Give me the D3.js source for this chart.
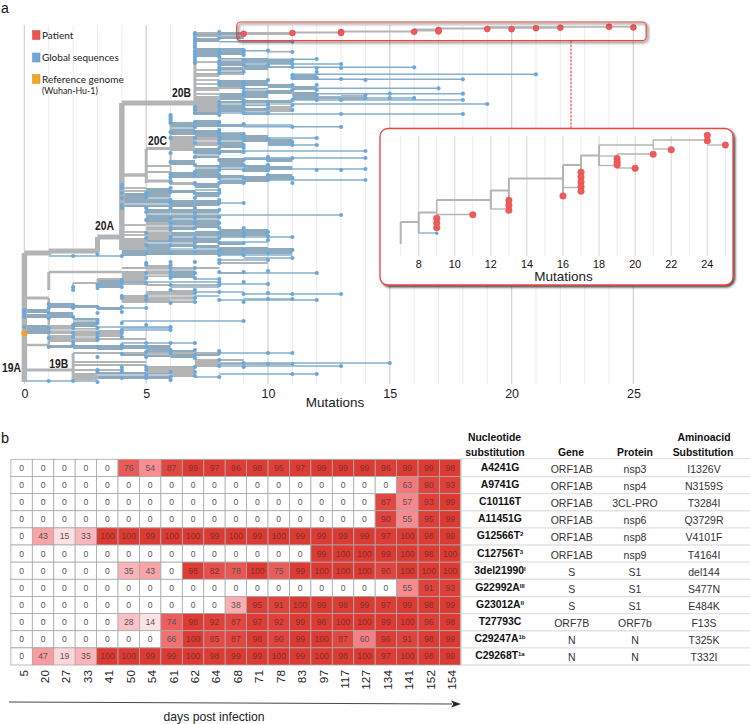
<!DOCTYPE html>
<html><head><meta charset="utf-8">
<script src="https://cdn.jsdelivr.net/npm/d3@7"></script>
<style>html,body{margin:0;padding:0;background:#fff}svg{display:block}text{font-family:"Liberation Sans",Arial,sans-serif}</style>
</head><body><svg id="c" width="750" height="724"></svg>
<script>
// ---------- panel a: phylogeny (x = mutations, y = tree order) ----------
const mutationTicks=[0,5,10,15,20,25];
const clades=[["20B",6.84,92],["20C",5.85,140],["20A",3.68,225],["19A",-0.14,367],["19B",1.8,363]];
const legendItems=["Patient","Global sequences","Reference genome"];
const legendColors=["#ef5350","#6fa8d8","#f5a623"];
// backbone: x0,x1,y,width
const backboneH=[[0,1,253,5],[1,3,251,5],[3,4,237,5],[4,7,103,5],[4,5,175,3.5],[5,6,148.5,3],[5,6,166,2],[5,6,172,2],[5,6,181,3],[0,1,298,3],[0,1,345,2.5],[0,2,370,3],[1,4,272,2.5],[2,3,283,2],[3,4,279,2]];
const backboneV=[[0,253,382,5.5],[1,251,255,5],[3,237,252,5],[4,103,250,5.5],[5,149,183,3],[7,32,115,3],[6,115,185,2],[1,272,290,3],[1,298,347,2.5],[2,353,381,3],[2,283,290,2],[3,279,290,2]];
// collapsed clades: x0,x1,y0,y1,tone (0 grey, 1 slate)
const bands=[
[7,8,32,37,1],[7,8,38,42,1],[7,8,48,57,1],[7,8,96,112,0],[7,8,112,115,1],
[8,9,32,35,1],[8,9,36,39,1],[8,9,48,55,1],[8,9,58,66,1],[8,9,67,75,1],[8,9,80,87,1],[8,9,93,100,1],[8,9,101,112,1],
[9,10,58,63,1],[9,10,65,70,1],[9,10,80,86,1],[9,10,88,98,1],[9,10,100,106,1],[9,10,108,115,1],
[10,11,60,64,1],[10,11,66,68,0],[10,11,84,88,1],[10,11,90,94,1],[10,11,100,105,1],[10,11,106,112,0],
[11,12,75,80,1],[11,12,86,90,1],[11,12,92,100,1],[12,13,96,99,0],[13,14,95,100,0],
[6,7,122,135,1],[6,7,136,151,0],[6,7,160,165,1],[6,7,172,178,1],[6,7,182,185,0],
[7,8,120,127,1],[7,8,130,137,1],[7,8,137,146,0],[7,8,148,158,1],[7,8,165,178,1],[7,8,183,188,1],
[8,9,124,127,1],[8,9,133,148,1],[8,9,150,153,1],[8,9,158,170,1],[8,9,175,184,1],
[9,10,135,142,1],[9,10,158,160,1],[9,10,165,172,1],[9,10,176,182,1],
[10,11,139,146,1],[10,11,158,162,1],[10,11,166,170,1],[10,11,174,180,1],
[4,5,193,207,1],[4,5,238,250,0],[4,5,250,256,1],
[5,6,188,207,1],[5,6,209,222,1],[5,6,222,240,0],[5,6,240,255,1],
[6,7,190,193,1],[6,7,200,207,1],[6,7,209,230,1],[6,7,232,247,1],[6,7,248,255,1],
[7,8,192,197,1],[7,8,200,206,1],[7,8,209,228,1],[7,8,231,243,1],[7,8,245,255,1],
[8,9,229,237,1],[8,9,242,245,1],[8,9,247,255,1],[9,10,229,236,1],[9,10,247,254,1],[10,11,248,254,1],
[0,1,309,313,1],[0,1,314,318,1],[0,1,325,334,1],
[1,2,303,308,1],[1,2,312,318,1],[1,2,325,334,0],[1,2,335,342,0],[1,2,345,348,1],
[2,3,305,308,1],[2,3,318,327,1],[2,3,328,342,0],[2,3,345,349,1],
[3,4,307,310,1],[3,4,330,337,0],[3,4,279,288,1],[3,4,345,350,1],
[4,5,273,285,0],[4,5,295,303,0],[4,5,345,349,1],[4,5,352,356,1],
[5,6,265,277,0],[5,6,291,302,0],[5,6,345,357,1],
[6,7,268,278,1],[6,7,290,302,0],[6,7,350,358,1],[7,8,360,367,0],[7,8,352,356,1],
[3,5,372,379,1],[5,7,366,371,0],[5,6,372,379,1],[6,7,372,377,0],[2,3,373,380,0],[8,9,272,274,0]];
// pale gaps between neighbouring lineages: y,x0,x1
const gaps=[[214,5,8],[219,6,8],[226,5,7],[231,5,6],[237,6,8],[243,5,7],[249,6,8],[198,5,8],[204,4,6],[128,6,8],[141,7,9],[155,7,9],[168,7,9],[179,8,9],[90,8,10],[104,8,11],[112,9,10],[60,8,9],[71,8,9],[330,1,3],[337,2,3],[270,5,7],[275,5,6],[296,5,7],[300,6,7],[321,2,3],[354,5,6],[375,3,6]];
// single lineages: y,x0,x1
const tips=[[41.7,8,11],[50.7,8,10],[59.3,9,12],[64,9,13],[67.3,10,16],[74.3,11,21],[79.3,11,18],[88.3,11,17],[93.7,12,18],[98,12,16],[100,11,18],[104,11,19],[114,9,18],
[126.7,9,13],[138,10,12],[145,10,12],[151,9,14],[158,9,14],[169,10,14],[180,10,14],[113,8,10],[125,8,11],[133,8,9],
[203,8,9],[215,8,13],[237,8,11],[190,7,8],[196,7,8],[242,8,10],[255,8,11],[258,9,11],[260,8,10],
[256,1,4],[273,8,12],[284,8,10],[294,9,13],[300,8,12],[299,9,11],[308,4,5],[321,4,9],[328,4,6],[330,4,6],[343,4,7],[353,8,11],[363,8,15],[366,8,13],[374,8,12],[377,7,8],[381,0,3],[327,3,6],[296,7,8],[287,6,8],[282,4,8],[279,7,8],[292,7,9]];
const greyTips=[[51.7,10,11],[33,7,8],[88,7,9],[74,7,9],[62,7,8],[70,7,8],[76,7,8],[80,7,8],[84,7,8],[90,7,8],[94,7,8],[107,7,8],[268,4,8],[272,4,6],[353,2,8],[362,2,5],[365,2,5],[370,2,4],[372,5,7],[376,6,7],[188,4,5],[191,4,5],[232,4,5],[235,4,5],[225,4,5],[360,7,9],[364,8,11],[353,5,7],[263,8,10],[285,5,8],[302,4,7],[339,3,5]];
// observed nodes per mutation count: index = mutations
const dotY=[
[310,312,314,317,327],
[304,308,313,318,328,332,338,347,381],
[256,287,290,305,308,317,325,328,333,337,342,345,381],
[254,285,288,307,313,320,323,328,333,337,340,347,357,370,372,382],
[185,188,193,198,205,208,256,280,283,287,296,298,307,312,323,330,333,337,345,348,354,367,370,372,378],
[193,197,208,212,220,233,238,245,253,263,265,273,278,283,296,300,308,325,343,347,352,357,367,370,375,378],
[115,117,119,121,123,132,138,153,162,174,182,177,181,188,192,200,203,208,218,223,227,230,237,240,245,253,262,265,268,272,275,278,285,290,303,327,330,343,350,353,372,377,380],
[33,35,38,41,44,47,51,54,57,60,63,107,110,113,122,127,132,138,143,152,157,165,172,175,184,183,193,198,208,213,218,223,228,238,243,247,252,262,268,273,278,290,293,298,302,343,350,355,358,367,372,376],
[32,35,38,50,52,54,57,61,64,67,70,73,82,85,102,105,108,112,115,122,125,130,133,137,140,143,148,153,160,167,170,175,178,183,190,193,200,203,210,217,223,228,233,238,243,250,255,260,263,272,279,282,285,292,300,351,353,360,366,377],
[50,52,55,60,65,72,82,85,88,92,95,100,104,108,113,124,134,137,140,145,148,152,160,165,170,178,183,203,228,232,236,243,250,255,272,282,294,302,321,363,367],
[50.7,65,80,92,102,105,108,113,139,157,160,165,170,175,180,232,236,240,253,260,271,284,293,299,353,364],
[41.7,52,60,64,67,75,78,85,90,100,105,110,127,142,145,158,178,183,237,250,258,294,299,353,364,374],
[59,68,72,78,85,90,95,100,138,145,170,273,300,374],
[64,68,79,100,114,127,170,215,294,366],
[80,95,98,151,158,169,180],
[93.7,98,363],
[67.3,98],[88.3],[79.3,93.7,100,114],[104],[],[74.3]];
const refNode=[0,333.3];
// patient lineage in main tree
const patientLines=[[9,11,33.5,3],[11,13,32.5,2],[13,16,31.5,2],[16,17,30,3],[17,19,28.5,1.8],[19,22,27.5,2.5],[22,24,27,1.5],[24,25,26.8,1.5],[7,9,36,1.5]];
const patientDots=[[9,33.8],[11,33],[13,32],[13,33],[16,31.7],[17,30],[17,31.5],[19,29],[20,29.2],[21,28.3],[22,27.7],[24,26.8],[25,27.4]];
// ---------- inset ----------
const insetTicks=[8,10,12,14,16,18,20,22,24];
const insetGrid=[7,8,9,10,11,12,13,14,15,16,17,18,19,20,21,22,23,24,25];
const insetH=[[7,8,222,2],[8,9,212.5,2],[9,12,200,2],[9,11,214.5,1.3],[12,13,190.5,2],[12,13,209,1.3],[13,16,178.5,2],[16,17,165,2],[16,17,187.5,1.3],[17,18,155.5,2],[18,21,145,1.5],[18,19,156,1.3],[18,19,165.5,1.3],[19,21,154,1.3],[19,20,168,1.3],[21,24,140,1.5],[21,22,149,1.3],[24,25,145,1.3]];
const insetV=[[7,222,244,2],[8,212,233,2],[9,200,228,1.5],[12,190,209,2],[13,178,200,2],[16,165,196,2],[17,155,174,2],[18,145,166,2],[19,154,168,1.3],[21,140,149,1.3]];
const insetDots=[[9,218.3],[9,223],[9,227.7],[11,214.7],[13,200.3],[13,205.3],[13,210.3],[16,196],[17,172.3],[17,177],[17,182],[17,186.7],[17,191.3],[19,158.5],[19,162],[19,165],[20,168.3],[21,154.3],[22,149.7],[24,135.3],[24,140.7],[25,145]];
// ---------- panel b ----------
const days=["5","20","27","33","41","50","54","61","62","64","68","71","78","83","97","117","127","134","141","152","154"];
const nucleotides=["A4241G","A9741G","C10116T","A11451G","G12566T","C12756T","3del21990","G22992A","G23012A","T27793C","C29247A","C29268T"];
const superscripts=["","","","","2","3","I","III","II","","1b","1a"];
const genes=["ORF1AB","ORF1AB","ORF1AB","ORF1AB","ORF1AB","ORF1AB","S","S","S","ORF7B","N","N"];
const proteins=["nsp3","nsp4","3CL-PRO","nsp6","nsp8","nsp9","S1","S1","S1","ORF7b","N","N"];
const aminoacids=["I1326V","N3159S","T3284I","Q3729R","V4101F","T4164I","del144","S477N","E484K","F13S","T325K","T332I"];
const A4241G=[0,0,0,0,0,76,54,87,99,97,96,98,95,97,99,99,99,96,99,99,98];
const A9741G=[0,0,0,0,0,0,0,0,0,0,0,0,0,0,0,0,0,0,63,90,93];
const C10116T=[0,0,0,0,0,0,0,0,0,0,0,0,0,0,0,0,0,87,57,93,99];
const A11451G=[0,0,0,0,0,0,0,0,0,0,0,0,0,0,0,0,0,90,55,95,99];
const G12566T=[0,43,15,33,100,100,99,100,100,99,100,99,100,99,99,99,99,97,100,98,99];
const C12756T=[0,0,0,0,0,0,0,0,0,0,0,0,0,0,99,100,100,99,100,98,100];
const del21990=[0,0,0,0,0,35,43,0,98,82,78,100,75,99,100,100,100,90,100,100,100];
const G22992A=[0,0,0,0,0,0,0,0,0,0,0,0,0,0,0,0,0,0,55,91,93];
const G23012A=[0,0,0,0,0,0,0,0,0,0,38,95,91,100,99,98,99,97,99,98,99];
const T27793C=[0,0,0,0,0,28,14,74,98,92,87,97,92,99,98,100,100,99,100,96,98];
const C29247A=[0,0,0,0,0,0,0,66,100,85,87,98,90,99,100,87,60,96,91,98,99];
const C29268T=[0,47,19,35,100,100,99,99,100,98,99,99,100,99,100,98,100,97,100,98,99];
const freq=[A4241G,A9741G,C10116T,A11451G,G12566T,C12756T,del21990,G22992A,G23012A,T27793C,C29247A,C29268T];

// ---------- drawing ----------
const svg=d3.select("#c");
const defs=svg.append("defs");
const f=defs.append("filter").attr("id","sh").attr("x","-5%").attr("y","-20%").attr("width","112%").attr("height","150%");
f.append("feDropShadow").attr("dx",1.6).attr("dy",1.6).attr("stdDeviation",.9).attr("flood-color","#222").attr("flood-opacity",.85);
const x=d3.scaleLinear([0,25],[24.4,633.4]);
const y=d3.scaleLinear([30,382],[30,382]);
const GREY="#b2b4b6",SLATE="#90aabd",BLUE="#86aecb",DOT="#6ba8da",RED="#ef5a5a";
const T=svg.append("g");
T.append("g").selectAll("line").data(d3.range(0,26)).join("line")
 .attr("x1",d=>x(d)).attr("x2",d=>x(d)).attr("y1",25).attr("y2",384)
 .attr("stroke",d=>d%5==0?"#d4d4d4":"#ececec").attr("stroke-width",d=>d%5==0?1.3:1);
T.append("g").selectAll("rect").data(bands).join("rect")
 .attr("x",d=>x(d[0])).attr("width",d=>x(d[1])-x(d[0])).attr("y",d=>y(d[2])).attr("height",d=>y(d[3])-y(d[2]))
 .attr("fill",d=>d[4]?SLATE:GREY);
T.append("g").selectAll("line").data(gaps).join("line")
 .attr("x1",d=>x(d[1])).attr("x2",d=>x(d[2])).attr("y1",d=>y(d[0])).attr("y2",d=>y(d[0])).attr("stroke","#e9eef1").attr("stroke-width",.9);
T.append("g").selectAll("line").data(greyTips).join("line")
 .attr("x1",d=>x(d[1])).attr("x2",d=>x(d[2])).attr("y1",d=>y(d[0])).attr("y2",d=>y(d[0])).attr("stroke",GREY).attr("stroke-width",1.8);
T.append("g").selectAll("line").data(tips).join("line")
 .attr("x1",d=>x(d[1])).attr("x2",d=>x(d[2])).attr("y1",d=>y(d[0])).attr("y2",d=>y(d[0])).attr("stroke",BLUE).attr("stroke-width",1.5);
T.append("g").selectAll("line").data(backboneH).join("line")
 .attr("x1",d=>x(d[0])).attr("x2",d=>x(d[1])).attr("y1",d=>y(d[2])).attr("y2",d=>y(d[2])).attr("stroke",GREY).attr("stroke-width",d=>d[3]);
T.append("g").selectAll("line").data(backboneV).join("line")
 .attr("x1",d=>x(d[0])).attr("x2",d=>x(d[0])).attr("y1",d=>y(d[1])).attr("y2",d=>y(d[2])).attr("stroke",GREY).attr("stroke-width",d=>d[3]);
const nodes=dotY.flatMap((ys,i)=>ys.map(v=>[i,v]));
T.append("g").selectAll("circle").data(nodes).join("circle")
 .attr("cx",d=>x(d[0])).attr("cy",d=>y(d[1])).attr("r",2.1).attr("fill",DOT);
T.append("circle").attr("cx",x(refNode[0])).attr("cy",y(refNode[1])).attr("r",3).attr("fill","#f5a02c");
// patient
T.append("g").selectAll("line").data(patientLines).join("line")
 .attr("x1",d=>x(d[0])).attr("x2",d=>x(d[1])).attr("y1",d=>y(d[2])).attr("y2",d=>y(d[2])).attr("stroke",GREY).attr("stroke-width",d=>d[3]);
T.append("g").selectAll("circle").data(patientDots).join("circle")
 .attr("cx",d=>x(d[0])).attr("cy",d=>y(d[1])).attr("r",3).attr("fill",RED).attr("stroke","#d84444").attr("stroke-width",.5);
T.append("rect").attr("x",236.7).attr("y",22).attr("width",409.5).attr("height",18.7).attr("rx",4).attr("fill","none")
 .attr("stroke","#e8463e").attr("stroke-width",1.2).attr("filter","url(#sh)");
T.append("line").attr("x1",571).attr("x2",571).attr("y1",41).attr("y2",128).attr("stroke","#d8322c").attr("stroke-width",1).attr("stroke-dasharray","2.5,1.2");
// axis
T.append("g").selectAll("text").data(mutationTicks).join("text")
 .attr("x",d=>x(d)+.5).attr("y",398).attr("text-anchor","middle").attr("font-size",12.5).attr("fill","#222").text(d=>d);
T.append("text").attr("x",335).attr("y",407).attr("text-anchor","middle").attr("font-size",13.5).attr("fill","#222").text("Mutations");
// clade labels
T.append("g").selectAll("text").data(clades).join("text")
 .attr("x",d=>x(d[1])).attr("y",d=>y(d[2])+5).attr("text-anchor","end").attr("font-size",13).attr("font-weight","bold").attr("fill","#222")
 .attr("textLength",19).attr("lengthAdjust","spacingAndGlyphs").text(d=>d[0]);
// legend
const legYs=[35,57.5,79];
const L=svg.append("g");
legendItems.forEach((t,i)=>{
 L.append("rect").attr("x",32.5).attr("y",legYs[i]-4.5).attr("width",7.5).attr("height",9).attr("fill",legendColors[i]).attr("stroke",d3.color(legendColors[i]).darker(.5)).attr("stroke-width",.5);
 L.append("text").attr("x",42).attr("y",legYs[i]+3.5).attr("font-size",10).style("font-family","Lato").attr("fill","#222").text(t);
});
L.append("text").attr("x",42).attr("y",94).attr("font-size",8.8).style("font-family","Lato").attr("fill","#222").text("(Wuhan-Hu-1)");
// inset
const ix=d3.scaleLinear([8,24],[418.7,707.3]);
const I=svg.append("g");
I.append("rect").attr("x",380).attr("y",128.5).attr("width",353).attr("height",156.5).attr("rx",8).attr("fill","#fff").attr("stroke","#e8463e").attr("stroke-width",1.3).attr("filter","url(#sh)");
I.append("g").selectAll("line").data(insetGrid).join("line")
 .attr("x1",d=>ix(d)).attr("x2",d=>ix(d)).attr("y1",136).attr("y2",256).attr("stroke",d=>d%2==0?"#d6d6d6":"#ececec").attr("stroke-width",1);
I.append("g").selectAll("line").data(insetH).join("line")
 .attr("x1",d=>ix(d[0])).attr("x2",d=>ix(d[1])).attr("y1",d=>d[2]).attr("y2",d=>d[2]).attr("stroke",GREY).attr("stroke-width",d=>d[3]);
I.append("g").selectAll("line").data(insetV).join("line")
 .attr("x1",d=>ix(d[0])).attr("x2",d=>ix(d[0])).attr("y1",d=>d[1]).attr("y2",d=>d[2]).attr("stroke",GREY).attr("stroke-width",d=>d[3]);
I.append("line").attr("x1",ix(8)).attr("x2",ix(9)).attr("y1",233).attr("y2",233).attr("stroke","#8db4d6").attr("stroke-width",1.5);
I.append("circle").attr("cx",ix(9)).attr("cy",233.3).attr("r",1.8).attr("fill",DOT);
I.append("g").selectAll("circle").data(insetDots).join("circle")
 .attr("cx",d=>ix(d[0])).attr("cy",d=>d[1]).attr("r",3.3).attr("fill",RED).attr("stroke","#e04b4b").attr("stroke-width",.4);
I.append("g").selectAll("text").data(insetTicks).join("text")
 .attr("x",d=>ix(d)).attr("y",268).attr("text-anchor","middle").attr("font-size",10.8).attr("fill","#111").text(d=>d);
I.append("text").attr("x",563.5).attr("y",281).attr("text-anchor","middle").attr("font-size",13.5).attr("fill","#222").text("Mutations");
// panel letters
svg.append("text").attr("x",1).attr("y",13).attr("font-size",14).attr("fill","#111").text("a");
svg.append("text").attr("x",1).attr("y",443).attr("font-size",14.5).attr("fill","#111").text("b");
// heatmap
const bx=d3.scaleBand().domain(days).range([10.9,460.9]);
const by=d3.scaleBand().domain(nucleotides).range([459.3,665]);
const col=d3.scaleLinear([0,15,35,55,75,88,100],["#ffffff","#fde0e2","#fbb4b8","#f98b90","#ea5c5a","#e04640","#dc3a32"]).clamp(true);
const H=svg.append("g");
const cells=freq.flatMap((r,i)=>r.map((v,j)=>({v,day:days[j],n:nucleotides[i]})));
H.selectAll("rect").data(cells).join("rect")
 .attr("x",d=>bx(d.day)).attr("y",d=>by(d.n)).attr("width",bx.bandwidth()).attr("height",by.bandwidth())
 .attr("fill",d=>col(d.v)).attr("stroke","#a9a9a9").attr("stroke-width",.8);
H.append("g").selectAll("text").data(cells).join("text")
 .attr("x",d=>bx(d.day)+bx.bandwidth()/2).attr("y",d=>by(d.n)+by.bandwidth()/2+3).attr("text-anchor","middle")
 .attr("font-size",8.6).attr("fill",d=>d.v>80?"#7e302c":"#555").text(d=>d.v);
H.append("g").selectAll("text").data(days).join("text")
 .attr("transform",d=>`translate(${bx(d)+bx.bandwidth()/2+6},670) rotate(-90)`).attr("text-anchor","end")
 .attr("font-size",11.8).attr("fill","#222").text(d=>d);
// arrow
H.append("line").attr("x1",9).attr("x2",452).attr("y1",702).attr("y2",704).attr("stroke","#333").attr("stroke-width",.9);
H.append("path").attr("d","M451,700.5 L461,704 L451,707.5 L453.5,704 Z").attr("fill","#222");
H.append("text").attr("x",214).attr("y",721).attr("text-anchor","middle").attr("font-size",12.2).attr("fill","#222").text("days post infection");
// table
const tb=svg.append("g");
const tcols=[[571.7,genes],[635,proteins],[704,aminoacids]];
const ty=d3.scaleBand().domain(nucleotides).range([459.3,665]);
tb.append("g").selectAll("line").data(nucleotides).join("line")
 .attr("x1",461).attr("x2",750).attr("y1",d=>ty(d)+ty.bandwidth()).attr("y2",d=>ty(d)+ty.bandwidth()).attr("stroke","#e2e2e2").attr("stroke-width",1.4);
tb.append("line").attr("x1",461).attr("x2",750).attr("y1",458.6).attr("y2",458.6).attr("stroke","#e2e2e2").attr("stroke-width",1.4);
tb.append("line").attr("x1",461).attr("x2",461).attr("y1",458).attr("y2",665).attr("stroke","#d6d6d6").attr("stroke-width",1.2);
const nt=tb.append("g").selectAll("text").data(nucleotides).join("text")
 .attr("x",500).attr("y",d=>ty(d)+ty.bandwidth()/2+3).attr("text-anchor","middle").attr("font-size",10.4).attr("font-weight","bold").attr("fill","#111");
nt.each(function(d,i){const s=d3.select(this);s.append("tspan").text(d);
 if(superscripts[i])s.append("tspan").attr("dy",-3).attr("font-size",6).text(superscripts[i]);});
tcols.forEach(([cx,arr])=>{
 tb.append("g").selectAll("text").data(arr).join("text")
 .attr("x",cx).attr("y",(d,i)=>ty(nucleotides[i])+ty.bandwidth()/2+5).attr("text-anchor","middle").attr("font-size",10.5).attr("fill","#333").text(d=>d);
});
const heads=[[494.5,441,"Nucleotide"],[495,456,"substitution"],[571,456,"Gene"],[635,456,"Protein"],[704,441,"Aminoacid"],[703,456,"Substitution"]];
tb.append("g").selectAll("text").data(heads).join("text")
 .attr("x",d=>d[0]).attr("y",d=>d[1]).attr("text-anchor","middle").attr("font-size",10.4).attr("font-weight","bold").attr("fill","#111").text(d=>d[2]);
</script></body></html>
